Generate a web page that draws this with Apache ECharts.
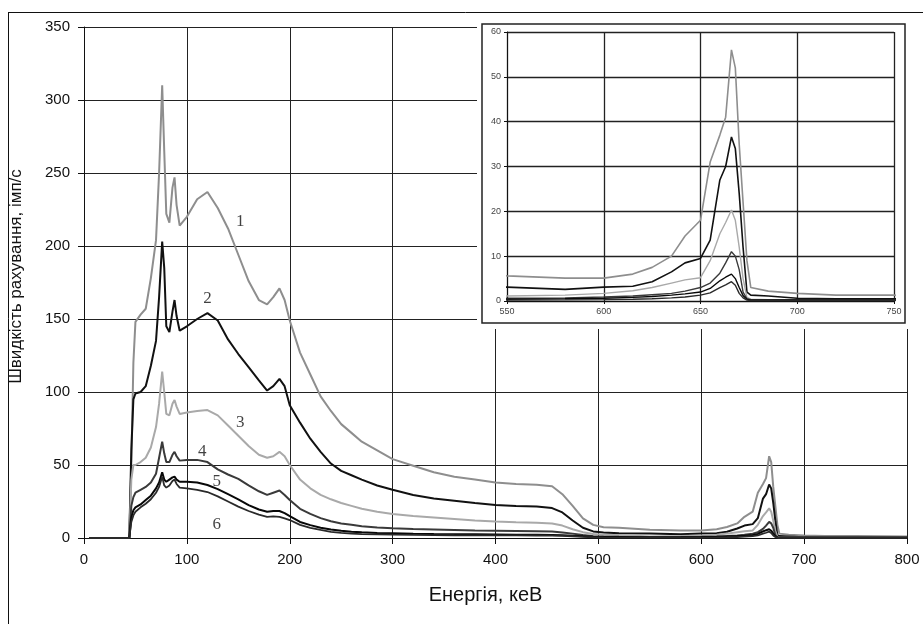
<!DOCTYPE html>
<html>
<head>
<meta charset="utf-8">
<script src="https://cdn.jsdelivr.net/npm/echarts@6/dist/echarts.min.js"></script>
<style>
  html, body { margin: 0; padding: 0; background: #fff; }
  #chart { width: 923px; height: 624px; }
</style>
</head>
<body>
<div id="chart"></div>
<script>
// ---- data ----
const energies = [5, 44, 46, 48, 50, 55, 60, 65, 70, 73, 76, 78, 80, 83, 86, 88, 90, 93, 100, 110,
  120, 130, 140, 150, 160, 170, 178, 184, 190, 195, 200, 210, 220, 230, 240, 250, 260, 270, 285, 300,
  320, 340, 360, 380, 400, 420, 440, 455, 465, 475, 485, 495, 505, 520, 550, 580, 600, 615, 625, 635,
  642, 650, 655, 660, 663, 666, 668, 670, 672, 674, 676, 685, 700, 720, 750, 800];

const series1 = [0, 0, 50, 120, 148, 153, 157, 178, 204, 250, 310, 265, 222, 216, 240, 247, 228, 214, 220, 232,
  237, 226, 212, 194, 176, 163, 160, 165, 171, 163, 149, 127, 112, 97, 87, 78, 72, 66, 60, 54,
  49.5, 45, 42, 40, 38, 37, 36.5, 35.5, 30, 22, 13.5, 9, 7.3, 7, 5.6, 5.1, 5.1, 6, 7.5, 10,
  14.5, 18, 31, 37, 41, 56, 52, 35, 22, 9, 3, 2.2, 1.7, 1.3, 1.3, 1.0];

const series2 = [0, 0, 60, 95, 99, 100, 104, 118, 135, 165, 203, 185, 145, 141, 155, 163, 152, 142, 145, 150,
  154, 149, 136, 126, 117, 108, 101, 104, 109, 104, 91, 79, 68, 59, 51, 46, 43, 40, 36, 33,
  29.5, 27, 25.5, 24, 22.6, 22, 21.5, 20.5, 17.5, 12, 7, 4.5, 3.8, 3.3, 3.1, 2.6, 3.1, 3.3, 4.3, 6.5,
  8.5, 9.5, 13.6, 27, 30, 36.6, 34, 24, 12, 2, 1.3, 1.1, 0.6, 0.5, 0.5, 0.4];

const series3 = [0, 0, 40, 50, 50, 52, 55, 62, 76, 92, 114, 100, 85, 84, 92, 94.5, 90, 85, 86, 87,
  87.6, 84, 77, 70, 63, 57, 55, 56, 59, 56, 50, 40, 34, 29.5, 26.5, 24, 22, 20, 18, 16.5,
  15, 14, 13, 12, 11.3, 10.8, 10.4, 10, 8.5, 6, 4, 2.8, 2.3, 2, 1.1, 1.3, 1.7, 2.3, 3, 4,
  4.7, 5.2, 9, 15, 17.5, 20.3, 18, 12, 5, 0.8, 0.4, 0.3, 0.3, 0.3, 0.3, 0.3];

const series4 = [0, 0, 22, 28, 31, 33, 35, 38, 44, 55, 66, 58, 52, 52, 57, 59, 56, 53, 53.5, 53.5,
  52, 47, 43.5, 40.5, 36, 32, 29.5, 31, 32.5, 29.5, 26, 20, 16.5, 13.6, 11.5, 10, 9, 8, 7.2, 6.7,
  6.1, 5.8, 5.5, 5.2, 5, 4.8, 4.6, 4.4, 3.8, 3, 2, 1.2, 1, 0.8, 0.6, 0.7, 0.9, 1.1, 1.4, 1.7,
  2.2, 3, 4, 6.2, 8.5, 11, 10, 7, 2, 0.5, 0.3, 0.3, 0.3, 0.3, 0.3, 0.3];

const series5 = [0, 0, 14, 19, 21, 23, 26, 29, 34, 38, 45, 40, 38.5, 40, 41.5, 42, 40, 38.5, 38.5, 38,
  36.3, 33.5, 30, 26.5, 22.5, 19.5, 18, 18.5, 18.5, 17, 15, 11, 8.8, 7, 5.8, 4.9, 4.3, 3.9, 3.4, 3.2,
  2.9, 2.7, 2.6, 2.5, 2.4, 2.3, 2.2, 2.1, 1.9, 1.6, 1.2, 0.9, 0.7, 0.6, 0.4, 0.5, 0.6, 0.8, 1, 1.3,
  1.6, 2, 2.8, 4.5, 5.3, 6, 5, 3, 1.2, 0.4, 0.2, 0.2, 0.2, 0.2, 0.2, 0.2];

const series6 = [0, 0, 11, 15.5, 18, 21, 23.5, 26.5, 31, 35, 42, 36, 34.5, 36, 39, 40, 37, 34.5, 34, 33,
  31.5, 28.5, 25, 21.5, 18.5, 16, 14.5, 14.8, 14.5, 13.5, 12.3, 9, 7, 5.5, 4.2, 3.5, 3, 2.7, 2.5, 2.3,
  2.1, 2, 1.9, 1.85, 1.8, 1.75, 1.7, 1.65, 1.5, 1.2, 0.8, 0.5, 0.4, 0.3, 0.2, 0.25, 0.3, 0.4, 0.5, 0.7,
  0.9, 1.3, 1.8, 3, 3.6, 4.3, 3.5, 1.7, 0.7, 0.2, 0.1, 0.1, 0.1, 0.1, 0.1, 0.1];

const curveLabels = [[152, 217, '1'], [120, 164, '2'], [152, 79, '3'], [115, 59, '4'], [129, 39, '5'], [129, 9.5, '6']];

const mainXTicks = [0, 100, 200, 300, 400, 500, 600, 700, 800];
const mainYTicks = [0, 50, 100, 150, 200, 250, 300, 350];
const insetXTicks = [550, 600, 650, 700, 750];
const insetYTicks = [0, 10, 20, 30, 40, 50, 60];

const xName = 'Енергія, кеВ';
const yName = 'Швидкість рахування, імп/с';

// ---- styling ----
const allSeries = [series1, series2, series3, series4, series5, series6];
const colors = ['#8e8e8e', '#111111', '#a9a9a9', '#3a3a3a', '#080808', '#2a2a2a'];
const mainWidths = [2, 2, 2, 2, 2, 1.8];
const insetWidths = [1.6, 1.6, 1.4, 1.4, 1.4, 1.4];

const toPairs = vals => energies.map((e, i) => [e, vals[i]]);

const series = [];
allSeries.forEach((vals, k) => {
  series.push({
    type: 'line', xAxisIndex: 0, yAxisIndex: 0, data: toPairs(vals),
    showSymbol: false, symbol: 'none', silent: true, animation: false, z: 2,
    lineStyle: { color: colors[k], width: mainWidths[k] }
  });
});
allSeries.forEach((vals, k) => {
  series.push({
    type: 'line', xAxisIndex: 1, yAxisIndex: 1, data: toPairs(vals),
    showSymbol: false, symbol: 'none', silent: true, animation: false, z: 8, clip: true,
    lineStyle: { color: colors[k], width: insetWidths[k] }
  });
});
series.push({
  type: 'scatter', xAxisIndex: 0, yAxisIndex: 0, symbolSize: 0, silent: true, animation: false, z: 3,
  data: curveLabels.map(l => ({ value: [l[0], l[1]], name: l[2] })),
  label: {
    show: true, position: 'inside', formatter: p => p.name,
    fontFamily: 'Liberation Serif', fontSize: 17, color: '#111'
  }
});

const chart = echarts.init(document.getElementById('chart'), null, { renderer: 'canvas' });
const lbl = { fontFamily: 'Liberation Sans', fontSize: 15, color: '#111' };

chart.setOption({
  backgroundColor: '#fff',
  animation: false,
  grid: [
    { left: 84, right: 16, top: 27, bottom: 86 },
    { left: 507, top: 32, width: 387, height: 269, z: 6 }
  ],
  xAxis: [
    {
      type: 'value', gridIndex: 0, min: mainXTicks[0], max: mainXTicks[mainXTicks.length - 1], interval: 100,
      name: xName, nameLocation: 'middle', nameGap: 47,
      nameTextStyle: { fontFamily: 'Liberation Sans', fontSize: 20, color: '#111', padding: [0, 20, 0, 0] },
      axisLine: { show: true, onZero: false, lineStyle: { color: '#111', width: 1 } },
      axisTick: { show: true, inside: false, length: 6, lineStyle: { color: '#111' } },
      axisLabel: Object.assign({ margin: 14 }, lbl),
      splitLine: { show: true, lineStyle: { color: '#222', width: 1 } }
    },
    {
      type: 'value', gridIndex: 1, min: insetXTicks[0], max: insetXTicks[insetXTicks.length - 1], interval: 50, z: 7,
      axisLine: { show: true, onZero: false, lineStyle: { color: '#111', width: 1 } },
      axisTick: { show: true, length: 3, lineStyle: { color: '#111' } },
      axisLabel: { margin: 6, fontFamily: 'Liberation Sans', fontSize: 9, color: '#444' },
      splitLine: { show: true, lineStyle: { color: '#222', width: 1.3 } }
    }
  ],
  yAxis: [
    {
      type: 'value', gridIndex: 0, min: mainYTicks[0], max: mainYTicks[mainYTicks.length - 1], interval: 50,
      name: yName, nameLocation: 'middle', nameGap: 59,
      nameTextStyle: { fontFamily: 'Liberation Sans', fontSize: 17, color: '#111', padding: [0, 0, 0, 12] },
      axisLine: { show: true, lineStyle: { color: '#111', width: 1 } },
      axisTick: { show: true, inside: false, length: 6, lineStyle: { color: '#111' } },
      axisLabel: Object.assign({ margin: 14 }, lbl),
      splitLine: { show: true, lineStyle: { color: '#222', width: 1 } }
    },
    {
      type: 'value', gridIndex: 1, min: insetYTicks[0], max: insetYTicks[insetYTicks.length - 1], interval: 10, z: 7,
      axisLine: { show: true, lineStyle: { color: '#111', width: 1 } },
      axisTick: { show: true, length: 3, lineStyle: { color: '#111' } },
      axisLabel: { margin: 6, fontFamily: 'Liberation Sans', fontSize: 9, color: '#444' },
      splitLine: { show: true, lineStyle: { color: '#222', width: 1.3 } }
    }
  ],
  graphic: [
    { type: 'line', z: 1, silent: true, shape: { x1: 8.5, y1: 12.5, x2: 8.5, y2: 624 }, style: { stroke: '#111', lineWidth: 1 } },
    { type: 'line', z: 1, silent: true, shape: { x1: 8, y1: 12.5, x2: 923, y2: 12.5 }, style: { stroke: '#111', lineWidth: 1 } },
    { type: 'rect', z: 5, silent: true, shape: { x: 477, y: 14, width: 436, height: 315 }, style: { fill: '#fff' } },
    { type: 'rect', z: 5, silent: true, shape: { x: 482, y: 24, width: 423, height: 299 }, style: { fill: '#fff', stroke: '#222', lineWidth: 1.5 } }
  ],
  series: series
});
</script>
</body>
</html>
